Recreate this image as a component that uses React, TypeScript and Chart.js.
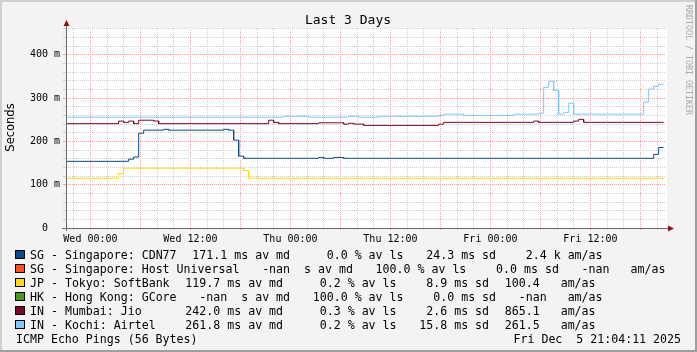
import { useEffect, useRef } from "react";
import { Chart, registerables } from "chart.js";

Chart.register(...registerables);

const MONO = "'DejaVu Sans Mono', monospace";
const SANS = "'DejaVu Sans', sans-serif";

// time axis: hours since Tue 21:04 (graph start), 72 h window
const X_MIN = 0;
const X_MAX = 72;
const FIRST_LABEL_HOUR = 2 + 56 / 60; // Wed 00:00
const X_LABELS = ["Wed 00:00", "Wed 12:00", "Thu 00:00", "Thu 12:00", "Fri 00:00", "Fri 12:00"];
const Y_MAX = 462;

// series (median RTT in ms), change points (hours) and values
const cdn77Hours = [0, 7.52, 8.12, 8.72, 9.32, 11.72, 12.32, 18.92, 19.52, 20.12, 20.72, 21.32, 30.32, 30.92, 32.12, 33.32, 70.52, 71.12, 71.72];
const cdn77Ms = [154, 159, 164, 219, 226, 228, 226, 228, 226, 203, 166, 161, 163, 161, 163, 161, 170, 186, 186];

const softbankHours = [0, 6.32, 6.92, 21.32, 21.92, 71.72];
const softbankMs = [115, 126, 138, 133, 115, 115];

const jioHours = [0, 6.32, 6.92, 7.52, 8.12, 8.72, 10.52, 11.12, 24.32, 24.92, 25.52, 30.32, 33.32, 33.92, 34.52, 35.72, 44.72, 45.32, 56.12, 56.72, 60.92, 61.52, 62.12, 71.72];
const jioMs = [241, 247, 244, 247, 241, 249, 247, 241, 249, 244, 241, 243, 240, 242, 240, 237, 240, 244, 247, 244, 247, 251, 244, 244];

const airtelHours = [0, 26.12, 29.12, 33.92, 35.12, 37.52, 44.72, 45.32, 47.72, 53.72, 56.72, 57.32, 57.92, 58.52, 59.12, 59.72, 60.32, 60.92, 69.32, 69.92, 70.52, 71.12, 71.72];
const airtelMs = [256, 258, 256, 258, 256, 258, 260, 263, 260, 263, 265, 325, 339, 318, 263, 267, 288, 263, 291, 321, 327, 332, 332];

// legend
const legendNames = ["SG - Singapore: CDN77", "SG - Singapore: Host Universal", "JP - Tokyo: SoftBank", "HK - Hong Kong: GCore", "IN - Mumbai: Jio", "IN - Kochi: Airtel"];
const legendColors = ["#0b4a8a", "#ff4f1a", "#ffd81a", "#4c9a1c", "#7a0a28", "#80c6ff"];
const legendMedian = ["171.1 ms av md ", " -nan  s av md ", "119.7 ms av md ", " -nan  s av md ", "242.0 ms av md ", "261.8 ms av md "];
const legendLoss = ["  0.0 % av ls", "100.0 % av ls", "  0.2 % av ls", "100.0 % av ls", "  0.3 % av ls", "  0.2 % av ls"];
const legendSd = [" 24.3 ms sd", "  0.0 ms sd", "  8.9 ms sd", "  0.0 ms sd", "  2.6 ms sd", " 15.8 ms sd"];
const legendAmas = ["  2.4 k am/as", " -nan   am/as", "100.4   am/as", " -nan   am/as", "865.1   am/as", "261.5   am/as"];

const TITLE = "Last 3 Days";
const Y_TITLE = "Seconds";
const FOOT_LEFT = "ICMP Echo Pings (56 Bytes)";
const FOOT_RIGHT = "Fri Dec  5 21:04:11 2025";
const WATERMARK = "RRDTOOL / TOBI OETIKER";

function stepPoints(hours: number[], vals: number[]) {
  const pts: { x: number; y: number }[] = [];
  for (let i = 0; i < hours.length; i++) {
    if (i > 0) pts.push({ x: hours[i], y: vals[i - 1] });
    pts.push({ x: hours[i], y: vals[i] });
  }
  return pts;
}

const xGridHours: number[] = [];
for (let k = -1; FIRST_LABEL_HOUR + 2 * k < X_MAX; k++) xGridHours.push(FIRST_LABEL_HOUR + 2 * k);
const yGridValues: number[] = [];
for (let v = 0; v <= Y_MAX; v += 20) yGridValues.push(v);

const MINOR = "#cfcfcf";
const MAJOR = "#f4a4a4";

const decorPlugin = {
  id: "decor",
  beforeDraw(chart: any) {
    const { ctx, chartArea: a } = chart;
    const W = chart.width, H = chart.height;
    ctx.save();
    ctx.fillStyle = "#f3f3f3";
    ctx.fillRect(0, 0, W, H);
    ctx.fillStyle = "#cfcfcf";
    ctx.fillRect(0, 0, W, 2);
    ctx.fillRect(0, 0, 2, H);
    ctx.fillStyle = "#9e9e9e";
    ctx.fillRect(W - 2, 0, 2, H);
    ctx.fillRect(0, H - 2, W, 2);
    ctx.fillStyle = "#ffffff";
    ctx.fillRect(a.left, a.top, a.right - a.left + 1, a.bottom - a.top);
    ctx.restore();
  },
  afterDraw(chart: any) {
    const { ctx, chartArea: a } = chart;
    ctx.save();
    // axes
    ctx.strokeStyle = "#6a6a6a";
    ctx.lineWidth = 1;
    ctx.beginPath();
    ctx.moveTo(a.left + 0.5, a.bottom + 3);
    ctx.lineTo(a.left + 0.5, a.top - 4);
    ctx.moveTo(a.left - 4, a.bottom + 0.5);
    ctx.lineTo(a.right + 3, a.bottom + 0.5);
    ctx.stroke();
    ctx.fillStyle = "#8b1414";
    ctx.beginPath();
    ctx.moveTo(a.left + 0.5, a.top - 8);
    ctx.lineTo(a.left + 3.5, a.top - 2);
    ctx.lineTo(a.left - 2.5, a.top - 2);
    ctx.closePath();
    ctx.fill();
    ctx.beginPath();
    ctx.moveTo(a.right + 8, a.bottom + 0.5);
    ctx.lineTo(a.right + 2, a.bottom - 2.5);
    ctx.lineTo(a.right + 2, a.bottom + 3.5);
    ctx.closePath();
    ctx.fill();

    // title
    ctx.fillStyle = "#000";
    ctx.font = `13px ${MONO}`;
    ctx.textAlign = "center";
    ctx.textBaseline = "alphabetic";
    ctx.fillText(TITLE, 348, 23.5);

    // y title
    ctx.save();
    ctx.translate(11, 127.5);
    ctx.rotate(-Math.PI / 2);
    ctx.font = `11.5px ${SANS}`;
    ctx.textBaseline = "middle";
    ctx.fillText(Y_TITLE, 0, 0);
    ctx.restore();

    // watermark
    ctx.save();
    ctx.translate(688, 60);
    ctx.rotate(Math.PI / 2);
    ctx.font = `8.3px ${MONO}`;
    ctx.fillStyle = "#a8a8a8";
    ctx.textBaseline = "middle";
    ctx.textAlign = "center";
    ctx.fillText(WATERMARK, 0, 0);
    ctx.restore();

    // legend
    ctx.font = `11.6px ${MONO}`;
    ctx.textAlign = "left";
    ctx.textBaseline = "alphabetic";
    const glue = 15.75;
    for (let i = 0; i < legendNames.length; i++) {
      const top = 250 + 14 * i;
      ctx.fillStyle = legendColors[i];
      ctx.fillRect(15, top, 10, 9);
      ctx.strokeStyle = "#000";
      ctx.strokeRect(15.5, top + 0.5, 9, 8);
      ctx.fillStyle = "#000";
      let x = 30;
      const parts = [legendNames[i].padEnd(20, " "), legendMedian[i], legendLoss[i], legendSd[i], legendAmas[i]];
      for (const p of parts) {
        ctx.fillText(p, x, top + 8.5);
        x += ctx.measureText(p).width + glue;
      }
    }
    const fy = 250 + 14 * 6 + 8.5;
    ctx.fillText(FOOT_LEFT, 16, fy);
    ctx.textAlign = "right";
    ctx.fillText(FOOT_RIGHT, 681, fy);
    ctx.restore();
  },
};

export default function App() {
  const ref = useRef<HTMLCanvasElement>(null);
  useEffect(() => {
    const lineDs = (label: string, hours: number[], vals: number[], color: string, order: number) => ({
      label,
      data: stepPoints(hours, vals),
      borderColor: color,
      backgroundColor: color,
      borderWidth: 1,
      pointRadius: 0,
      tension: 0,
      fill: false,
      order,
    });
    const chart = new Chart(ref.current as HTMLCanvasElement, {
      type: "line",
      data: {
        datasets: [
          lineDs(legendNames[0], cdn77Hours, cdn77Ms, legendColors[0], 4),
          lineDs(legendNames[2], softbankHours, softbankMs, legendColors[2], 3),
          lineDs(legendNames[4], jioHours, jioMs, legendColors[4], 2),
          lineDs(legendNames[5], airtelHours, airtelMs, legendColors[5], 1),
        ],
      },
      options: {
        responsive: false,
        animation: false,
        devicePixelRatio: 1,
        layout: { padding: { left: 0, top: 28, right: 31, bottom: 0 } },
        plugins: { legend: { display: false }, title: { display: false }, tooltip: { enabled: false } },
        scales: {
          x: {
            type: "linear",
            min: X_MIN,
            max: X_MAX,
            afterFit: (s: any) => { s.height = 124; },
            afterBuildTicks: (s: any) => { s.ticks = xGridHours.map((v) => ({ value: v })); },
            ticks: {
              autoSkip: false,
              maxRotation: 0,
              padding: 3,
              color: "#000",
              font: { family: MONO, size: 10 },
              callback: (v: any) => {
                const k = Math.round((Number(v) - FIRST_LABEL_HOUR) / 2);
                return k >= 0 && k % 6 === 0 && X_LABELS[k / 6] ? X_LABELS[k / 6] : "";
              },
            },
            grid: {
              color: (c: any) => {
                const k = Math.round((c.tick.value - FIRST_LABEL_HOUR) / 2);
                return ((k % 3) + 3) % 3 === 0 ? MAJOR : MINOR;
              },
              tickLength: 2,
              lineWidth: 1,
            },
            border: { display: false, dash: [1, 1] },
          },
          y: {
            type: "linear",
            min: 0,
            max: Y_MAX,
            afterFit: (s: any) => { s.width = 66; },
            afterBuildTicks: (s: any) => { s.ticks = yGridValues.map((v) => ({ value: v })); },
            ticks: {
              autoSkip: false,
              padding: 3,
              color: "#000",
              font: { family: MONO, size: 10 },
              callback: (v: any) => {
                const n = Number(v);
                if (n === 0) return "0  ";
                return n % 100 === 0 ? `${n} m` : "";
              },
            },
            grid: {
              color: (c: any) => (c.tick.value % 100 === 0 ? MAJOR : MINOR),
              tickLength: 3,
              lineWidth: 1,
            },
            border: { display: false, dash: [1, 1] },
          },
        },
      },
      plugins: [decorPlugin],
    } as any);
    return () => chart.destroy();
  }, []);
  return (
    <div style={{ position: "fixed", left: 0, top: 0, width: 697, height: 352 }}>
      <canvas ref={ref} width={697} height={352} style={{ display: "block", width: 697, height: 352 }} />
    </div>
  );
}
